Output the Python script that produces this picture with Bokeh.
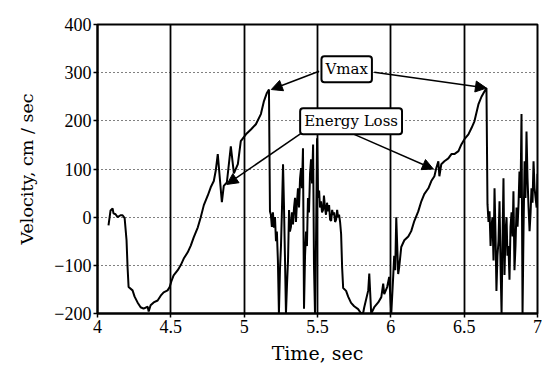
from bokeh.plotting import figure
from bokeh.models import FixedTicker, Label, Arrow, NormalHead, Range1d
from bokeh.embed import file_html
from bokeh.resources import INLINE

# ---- data ----
t_sec = [4.075, 4.089, 4.103, 4.109, 4.123, 4.137, 4.157, 4.171, 4.185, 4.198,
         4.205, 4.212, 4.239, 4.253, 4.273, 4.294, 4.314, 4.342, 4.349, 4.362,
         4.383, 4.410, 4.431, 4.451, 4.478, 4.492, 4.506, 4.519, 4.547, 4.567,
         4.588, 4.615, 4.636, 4.656, 4.684, 4.704, 4.725, 4.752, 4.772, 4.793,
         4.807, 4.820, 4.848, 4.861, 4.882, 4.909, 4.930, 4.957, 4.977, 5.012,
         5.046, 5.080, 5.114, 5.135, 5.155, 5.169,
         5.176, 5.182, 5.189, 5.196, 5.203, 5.210, 5.217, 5.223, 5.230, 5.237,
         5.244, 5.251, 5.258, 5.265, 5.271, 5.278, 5.285, 5.292, 5.299, 5.306,
         5.312, 5.319, 5.326, 5.333, 5.340, 5.347, 5.353, 5.360, 5.367, 5.374,
         5.381, 5.388, 5.394, 5.401, 5.408, 5.415, 5.422, 5.428, 5.435, 5.442,
         5.449, 5.456, 5.463, 5.470, 5.476, 5.483, 5.490, 5.497, 5.504, 5.511,
         5.517, 5.524, 5.531, 5.538, 5.544, 5.551, 5.558, 5.565, 5.572, 5.579,
         5.586, 5.593, 5.600, 5.606, 5.613, 5.620, 5.627, 5.634, 5.640, 5.647,
         5.654, 5.661,
         5.668, 5.675, 5.695, 5.709, 5.729, 5.750, 5.777, 5.798, 5.812, 5.818,
         5.846, 5.853, 5.866, 5.887, 5.914, 5.935, 5.948, 5.955, 5.975, 5.989,
         6.003, 6.016, 6.023, 6.030, 6.037, 6.050, 6.057, 6.071, 6.092, 6.119,
         6.139, 6.160, 6.187, 6.208, 6.228, 6.256, 6.276, 6.297, 6.310, 6.324,
         6.331, 6.344, 6.365, 6.392, 6.413, 6.433, 6.461, 6.481, 6.502, 6.529,
         6.550, 6.570, 6.597, 6.618, 6.638, 6.652,
         6.659, 6.666, 6.673, 6.680, 6.686, 6.693, 6.700, 6.707, 6.714, 6.720,
         6.727, 6.734, 6.741, 6.748, 6.755, 6.761, 6.768, 6.775, 6.782, 6.789,
         6.795, 6.802, 6.809, 6.816, 6.823, 6.830, 6.836, 6.843, 6.850, 6.857,
         6.864, 6.871, 6.877, 6.884, 6.891, 6.898, 6.905, 6.912, 6.918, 6.925,
         6.932, 6.939, 6.946, 6.953, 6.959, 6.966, 6.973, 6.980, 6.987, 6.994,
         7.000]

vel = [-17, 14, 18, 8, 6, 0, 4, 4, -2, -48,
       -104, -145, -152, -165, -177, -187, -190, -186, -196, -183,
       -177, -173, -163, -156, -152, -145, -131, -121, -110, -100,
       -86, -73, -59, -42, -21, 0, 25, 45, 62, 75,
       98, 131, 31, 65, 72, 147, 91, 110, 158, 172,
       182, 193, 214, 241, 258, 265,
       12, 5, -20, 10, -22, 0, -50, -30, -90, -200,
       -110, -60, 20, 110, 30, -80, -200, -140, -90, 15,
       -30, -20, 10, -15, 20, 40, -10, 30, 60, 20,
       80, 102, 60, 143, -190, -80, -30, -60, 40, 10,
       90, 120, 70, 151, -100, -200, -50, 164, 40, 55,
       20, 33, 10, 15, 45, 20, 5, 30, 12, 25,
       -5, -8, 15, 5, 10, -10, -5, 15, 0, 5,
       -10, -35,
       -105, -147, -153, -165, -178, -185, -191, -200, -198, -188,
       -152, -117, -200, -187, -177, -166, -138, -160, -145, -124,
       -200, -124, -80, -110, 0, -118, -104, -62, -48, -40,
       -29, -8, 12, 33, 48, 60, 75, 85, 102, 116,
       85, 110, 116, 122, 131, 131, 137, 151, 162, 172,
       185, 199, 234, 250, 261, 268,
       27, -10, 12, -60, -20, 0, -90, 60, -40, -153,
       -80, -50, 33, -100, -200, -60, 81, -120, -30, 0,
       -80, -60, -130, -20, 10, -40, 54, -110, -60, 20,
       -20, 30, 95, 40, 214, -200, -20, 116, 40, 178,
       80, 20, -29, 10, 60, 30, 116, 60, 40, 20,
       90]

x_ticks = [4, 4.5, 5, 5.5, 6, 6.5, 7]
x_labels = ["4", "4.5", "5", "5.5", "6", "6.5", "7"]
y_ticks = [-200, -100, 0, 100, 200, 300, 400]
y_labels = ["\u2212200", "\u2212100", "0", "100", "200", "300", "400"]

# annotation boxes: text, centre (t, v)
box_texts = ["Vmax", "Energy Loss"]
box_t = [5.699, 5.729]
box_v = [307, 199]

# arrows: start (t, v) -> end (t, v)
arrow_t0 = [5.511, 5.887, 5.388, 5.750]
arrow_v0 = [303, 301, 174, 172]
arrow_t1 = [5.185, 6.652, 4.882, 6.290]
arrow_v1 = [265, 268, 68, 100]

p = figure(width=542, height=369, output_backend="svg", toolbar_location=None,
           x_range=Range1d(4, 7), y_range=Range1d(-200, 400),
           min_border_left=97, min_border_right=5, min_border_top=24,
           min_border_bottom=56)

p.background_fill_color = "white"
p.border_fill_color = "white"
p.outline_line_color = "black"
p.outline_line_width = 2

p.xaxis.ticker = FixedTicker(ticks=x_ticks)
p.yaxis.ticker = FixedTicker(ticks=y_ticks)
p.xaxis.major_label_overrides = dict(zip(x_ticks, x_labels))
p.yaxis.major_label_overrides = dict(zip(y_ticks, y_labels))

for ax in (p.xaxis[0], p.yaxis[0]):
    ax.axis_line_color = "black"
    ax.axis_line_width = 2
    ax.major_tick_line_color = "black"
    ax.major_tick_line_width = 1.5
    ax.major_tick_in = 0
    ax.major_tick_out = 4
    ax.minor_tick_line_color = None
    ax.major_label_text_font = "Liberation Serif"
    ax.major_label_text_font_size = "18px"
    ax.major_label_text_color = "black"
    ax.axis_label_text_font = "DejaVu Serif"
    ax.axis_label_text_font_style = "normal"
    ax.axis_label_text_color = "black"

p.xaxis.axis_label = "Time, sec"
p.xaxis.axis_label_text_font_size = "19px"
p.xaxis.major_label_standoff = 2
p.xaxis.axis_label_standoff = 6
p.yaxis.axis_label = "Velocity, cm / sec"
p.yaxis.axis_label_text_font_size = "17.5px"
p.yaxis.major_label_standoff = 2
p.yaxis.axis_label_standoff = 14

p.xgrid.ticker = FixedTicker(ticks=x_ticks)
p.ygrid.ticker = FixedTicker(ticks=y_ticks)
p.xgrid.grid_line_color = "black"
p.xgrid.grid_line_width = 1.8
p.xgrid.grid_line_alpha = 1.0
p.ygrid.grid_line_color = "black"
p.ygrid.grid_line_width = 1.2
p.ygrid.grid_line_dash = "1 3"
p.ygrid.grid_line_alpha = 1.0

p.line(t_sec, vel, line_color="black", line_width=2)

for i in range(len(arrow_t0)):
    p.add_layout(Arrow(end=NormalHead(size=11, fill_color="black", line_color="black"),
                       x_start=arrow_t0[i], y_start=arrow_v0[i],
                       x_end=arrow_t1[i], y_end=arrow_v1[i],
                       line_color="black", line_width=1.5))

for txt, bt, bv in zip(box_texts, box_t, box_v):
    p.add_layout(Label(x=bt, y=bv, text=txt, text_align="center", text_baseline="middle",
                       text_font="DejaVu Serif", text_font_size="15px", text_color="black",
                       background_fill_color="white", border_line_color="black",
                       border_line_width=2, padding=4, border_radius=3))

open("out.html", "w").write(file_html(p, INLINE))
